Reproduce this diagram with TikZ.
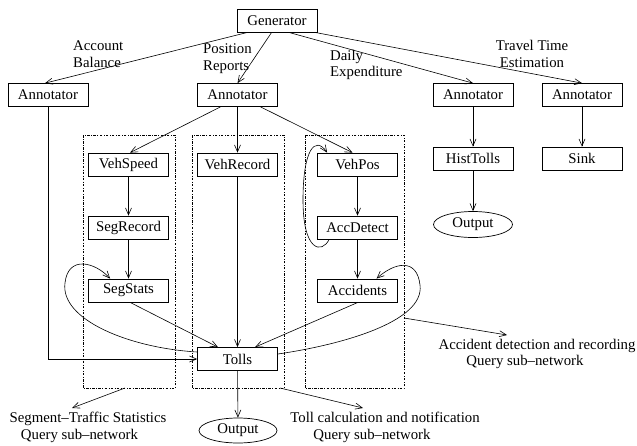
\documentclass[tikz,border=0pt]{standalone}
\usepackage{fontspec}
\setmainfont{Liberation Serif}
\usetikzlibrary{arrows.meta,calc,shapes.geometric}
\begin{document}
\begin{tikzpicture}[x=1pt,y=-1pt,
  every node/.style={font=\fontsize{14.8}{16.8}\selectfont},
  box/.style={draw,rectangle,minimum width=80pt,minimum height=23pt,inner sep=0pt,line width=0.7pt},
  oval/.style={draw,ellipse,minimum width=79pt,minimum height=26pt,inner sep=0pt,line width=0.7pt},
  conn/.style={line width=0.6pt,-{Straight Barb[length=7pt,width=6pt]}},
  region/.style={line width=0.5pt,dash pattern=on 2.5pt off 1.5pt on 0.6pt off 1.5pt},
  lbl/.style={inner sep=0pt}]
\useasboundingbox (0,0) rectangle (637,445);

% nodes
\node[box] (gen) at (277,20.5) {Generator};
\node[box] (ann1) at (48,95) {Annotator};
\node[box] (ann2) at (237.5,95) {Annotator};
\node[box] (ann3) at (473,95) {Annotator};
\node[box] (ann4) at (582,95) {Annotator};
\node[box] (vehspeed) at (128.5,164.5) {VehSpeed};
\node[box] (segrecord) at (128.5,227.5) {SegRecord};
\node[box] (segstats) at (128.5,290.5) {SegStats};
\node[box] (vehrecord) at (237.5,164.5) {VehRecord};
\node[box] (vehpos) at (357.5,164.5) {VehPos};
\node[box] (accdetect) at (357.5,227.5) {AccDetect};
\node[box] (accidents) at (357.5,290.5) {Accidents};
\node[box] (histtolls) at (473,158.5) {HistTolls};
\node[box] (sink) at (582,158.5) {Sink};
\node[oval] (out1) at (473,224.5) {Output};
\node[box] (tolls) at (237.5,359) {Tolls};
\node[oval,minimum width=78pt,minimum height=25pt] (out2) at (238,430.5) {Output};

% query regions
\draw[region] (83,135) rectangle (175,388);
\draw[region] (192,135) rectangle (284,388);
\draw[region] (305,135) rectangle (404,388);

% stream labels
\node[lbl,align=left,anchor=west] (lab1) at (73,54) {Account\\Balance};
\node[lbl,align=left,anchor=west] (lab2) at (203,59) {Position\\Reports};
\node[lbl,align=left,anchor=west] (lab3) at (330,65) {Daily\\Expenditure};
\node[lbl,align=center] (lab4) at (532,54) {Travel Time\\Estimation};

% generator edges
\draw[conn] ($(gen.south west)+(11,0)$) -- ($(ann1.north)+(-3,0)$);
\draw[conn] ($(gen.south west)+(35,0)$) -- (ann2.north);
\draw[conn] ($(gen.south west)+(52,0)$) -- (ann3.north);
\draw[conn] ($(gen.south west)+(78,0)$) -- (ann4.north);

% position reports
\draw[conn] ($(ann2.south)+(-17,0)$) -- ($(vehspeed.north)+(1.5,0)$);
\draw[conn] (ann2) -- (vehrecord);
\draw[conn] ($(ann2.south)+(23,0)$) -- ($(vehpos.north)+(-5,0)$);
\draw[conn] (vehspeed) -- (segrecord);
\draw[conn] (segrecord) -- (segstats);
\draw[conn] (vehrecord) -- (tolls);
\draw[conn] (vehpos) -- (accdetect);
\draw[conn] (accdetect) -- (accidents);
\draw[conn] ($(segstats.south)+(1.5,0)$) -- ($(tolls.north)+(-19.5,0)$);
\draw[conn] ($(accidents.south)+(0.5,0)$) -- ($(tolls.north)+(17.5,0)$);
\draw[conn] (ann1.south) -- (ann1.south |- tolls.west) -- (tolls.west);
\draw[conn] (tolls) -- (out2);
\draw[conn] (ann3) -- (histtolls);
\draw[conn] (histtolls) -- (out1);
\draw[conn] (ann4) -- (sink);

% feedback curves
\draw[conn] ($(tolls.west)+(0,-7)$) .. controls (130,348) and (60,320) .. (65,283)
  .. controls (68,255) and (95,262) .. ($(segstats.north west)+(22,0)$);
\draw[conn] ($(tolls.east)+(0,-5)$) .. controls (340,345) and (425,322) .. (420,285)
  .. controls (417,258) and (395,262) .. ($(accidents.north)+(19,0)$);
\draw[conn] ($(accdetect.south west)+(12,0)$) .. controls (322,254) and (303,252) .. (303,200)
  .. controls (303,150) and (315,135) .. ($(vehpos.north west)+(10,0)$);

% sub-network labels
\node[lbl,align=center] (q1) at (88,427) {Segment–Traffic Statistics\\Query sub–network\hspace*{17pt}};
\node[lbl,align=center] (q2) at (385,427) {Toll calculation and notification\\Query sub–network\hspace*{26pt}};
\node[lbl,align=center] (q3) at (537,354) {Accident detection and recording\\Query sub–network\hspace*{24pt}};
\coordinate (e1) at (72,408);
\coordinate (e2) at (363,408);
\coordinate (e3) at (507,335);
\draw[conn] (125,388) -- (e1);
\draw[conn] (280,388) -- (e2);
\draw[conn] (404,318) -- (e3);
\end{tikzpicture}
\end{document}
